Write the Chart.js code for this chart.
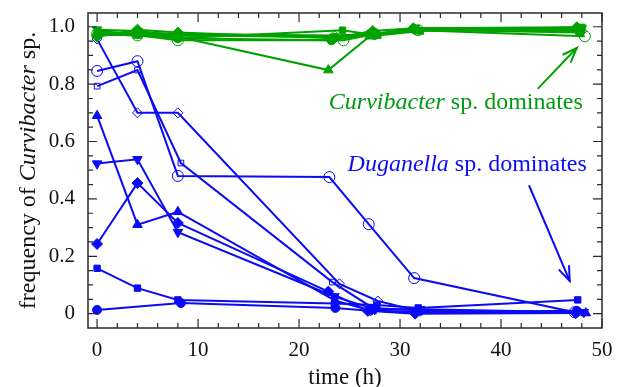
<!DOCTYPE html>
<html>
<head>
<meta charset="utf-8">
<script src="https://cdn.jsdelivr.net/npm/chart.js@4/dist/chart.umd.min.js"></script>
<style>
html,body{margin:0;padding:0;background:#fff;}
#wrap{width:626px;height:387px;}
</style>
</head>
<body>
<div id="wrap"><canvas id="c" width="626" height="387"></canvas></div>
<script>
// ---- data: [time (h), frequency of Curvibacter sp.] ----
// Duganella sp. dominates (blue)
const dugOpenCircle  = [[0,0.846],[4,0.88],[8,0.48],[23,0.476],[26.9,0.312],[31.4,0.124],[47.3,0.005]];
const dugOpenSquare  = [[0,0.793],[4,0.849],[8.3,0.525],[23.3,0.11],[27.3,0.02],[31.6,0.012],[47.8,0.005]];
const dugOpenDiamond = [[0,0.957],[4,0.70],[8,0.70],[24,0.104],[27.8,0.044],[32,0.008],[47.5,0.003]];
const dugTriUp       = [[0,0.69],[4,0.31],[8,0.355],[23.6,0.045],[27.2,0.01],[31.8,0.006],[48.4,0.002]];
const dugTriDown     = [[0,0.523],[4,0.538],[8,0.284],[23.5,0.06],[27.5,0.015],[32,0.015],[48.2,0.005]];
const dugDiamond     = [[0,0.243],[4,0.455],[8,0.316],[22.9,0.077],[26.8,0.01],[31.5,0.0],[47.4,0.002]];
const dugSquare      = [[0,0.158],[4,0.089],[8,0.048],[23.5,0.035],[27.7,0.03],[31.8,0.02],[47.6,0.048]];
const dugCircle      = [[0,0.013],[8.3,0.037],[23.6,0.02],[27,0.01],[31.5,0.005],[47.5,0.01]];
// Curvibacter sp. dominates (green)
const curOpenCircle  = [[0,0.975],[4,0.97],[8,0.953],[24.4,0.953],[27.5,0.975],[31.8,0.988],[48.3,0.967]];
const curOpenSquare  = [[0,0.98],[4,0.975],[8,0.97],[23.5,0.965],[27,0.97],[31.5,0.99],[48,0.99]];
const curOpenDiamond = [[0,0.97],[4,0.98],[8,0.975],[23.5,0.97],[27.5,0.975],[31.5,0.99],[48,0.985]];
const curTriUp       = [[0,0.975],[4,0.97],[8,0.965],[22.9,0.849],[27,0.967],[31.5,0.99],[47.8,0.99]];
const curTriDown     = [[0,0.99],[4,0.985],[8,0.97],[23.5,0.965],[27.5,0.975],[31.5,0.995],[48,0.995]];
const curDiamond     = [[0,0.965],[4,0.99],[8,0.98],[23.5,0.96],[27.3,0.985],[31.3,0.995],[47.5,0.998]];
const curSquare      = [[0,0.985],[4,0.975],[8,0.96],[24.3,0.988],[27.8,0.97],[32,0.985],[48,0.998]];
const curCircle      = [[0,0.97],[4,0.975],[8,0.96],[23.2,0.953],[27,0.975],[31.5,0.99],[47.8,0.98]];

// ---- ticks ----
const xTickValues = [0,10,20,30,40,50];
const xTickLabels = ['0','10','20','30','40','50'];
const yTickValues = [0,0.2,0.4,0.6,0.8,1.0];
const yTickLabels = ['0','0.2','0.4','0.6','0.8','1.0'];

// ---- annotations (data coordinates) ----
const curvText = {x:48.1, y:0.713};
const dugText  = {x:48.5, y:0.497};
const curvArrow = [[43.7,0.786],[47.5,0.926]];
const dugArrow  = [[42.8,0.445],[46.8,0.114]];

const BLUE = '#0b0bf5';
const GREEN = '#00a200';
const GREEN_TXT = '#009a10';
const FONT = "'Liberation Serif', 'DejaVu Serif', serif";

const markerStyles = [
  {pointStyle:'circle',  radius:5.5, open:true,  rot:0},
  {pointStyle:'rect',    radius:4,   open:true,  rot:0},
  {pointStyle:'rectRot', radius:5,   open:true,  rot:0},
  {pointStyle:'triangle',radius:5.5, open:false, rot:0},
  {pointStyle:'triangle',radius:5.5, open:false, rot:180},
  {pointStyle:'rectRot', radius:5.5, open:false, rot:0},
  {pointStyle:'rect',    radius:4.5, open:false, rot:0},
  {pointStyle:'circle',  radius:4.5, open:false, rot:0}
];
const dugSeries = [dugOpenCircle,dugOpenSquare,dugOpenDiamond,dugTriUp,dugTriDown,dugDiamond,dugSquare,dugCircle];
const curSeries = [curOpenCircle,curOpenSquare,curOpenDiamond,curTriUp,curTriDown,curDiamond,curSquare,curCircle];

function mk(series, color, i){
  const m = markerStyles[i];
  return {
    data: series.map(p=>({x:p[0], y:p[1]})),
    showLine:true,
    borderColor: color,
    borderWidth: 2,
    pointStyle: m.pointStyle,
    pointRadius: m.radius,
    pointRotation: m.rot,
    pointBorderWidth: 1,
    pointBorderColor: color,
    pointBackgroundColor: m.open ? 'rgba(0,0,0,0)' : color,
    pointHoverRadius: m.radius
  };
}
const datasets = [];
curSeries.forEach((s,i)=>datasets.push(mk(s,GREEN,i)));
dugSeries.forEach((s,i)=>datasets.push(mk(s,BLUE,i)));

function measureRich(ctx, parts, size){
  let w = 0;
  parts.forEach(p=>{ ctx.font = (p.i?'italic ':'') + size + 'px ' + FONT; w += ctx.measureText(p.t).width; });
  return w;
}
function richText(ctx, parts, size, color, x, y, align, angle){
  ctx.save();
  ctx.translate(x,y);
  if(angle) ctx.rotate(angle);
  const w = measureRich(ctx, parts, size);
  let cx = align==='right' ? -w : (align==='center' ? -w/2 : 0);
  ctx.fillStyle = color;
  ctx.textBaseline = 'alphabetic';
  ctx.textAlign = 'left';
  parts.forEach(p=>{
    ctx.font = (p.i?'italic ':'') + size + 'px ' + FONT;
    ctx.fillText(p.t, cx, 0);
    cx += ctx.measureText(p.t).width;
  });
  ctx.restore();
}
function arrow(ctx, x1,y1,x2,y2,color){
  ctx.save();
  ctx.strokeStyle = color; ctx.lineWidth = 2; ctx.lineCap='round';
  ctx.beginPath(); ctx.moveTo(x1,y1); ctx.lineTo(x2,y2); ctx.stroke();
  const a = Math.atan2(y2-y1,x2-x1), L = 15, s = 0.36;
  ctx.beginPath();
  ctx.moveTo(x2 - L*Math.cos(a-s), y2 - L*Math.sin(a-s));
  ctx.lineTo(x2,y2);
  ctx.lineTo(x2 - L*Math.cos(a+s), y2 - L*Math.sin(a+s));
  ctx.stroke();
  ctx.restore();
}

const framePlugin = {
  id:'frame',
  afterDraw(chart){
    const ctx = chart.ctx, a = chart.chartArea;
    const xs = chart.scales.x, ys = chart.scales.y;
    ctx.save();
    ctx.strokeStyle = '#2a2a2a';
    ctx.lineWidth = 1.5;
    ctx.strokeRect(a.left, a.top, a.right-a.left, a.bottom-a.top);
    ctx.lineWidth = 1.2;
    for(let t=0; t<=50; t+=2){
      const px = xs.getPixelForValue(t);
      const L = (t%10===0) ? 9 : 5;
      ctx.beginPath();
      ctx.moveTo(px, a.bottom); ctx.lineTo(px, a.bottom-L);
      ctx.moveTo(px, a.top); ctx.lineTo(px, a.top+L);
      ctx.stroke();
    }
    for(let k=0; k<=20; k++){
      const v = k*0.05;
      const py = ys.getPixelForValue(v);
      const L = (k%4===0) ? 9 : 5;
      ctx.beginPath();
      ctx.moveTo(a.left, py); ctx.lineTo(a.left+L, py);
      ctx.moveTo(a.right, py); ctx.lineTo(a.right-L, py);
      ctx.stroke();
    }
    ctx.restore();

    richText(ctx, [{t:'Curvibacter',i:true},{t:' sp. dominates'}], 24, GREEN_TXT,
      xs.getPixelForValue(curvText.x), ys.getPixelForValue(curvText.y), 'right');
    richText(ctx, [{t:'Duganella',i:true},{t:' sp. dominates'}], 24, BLUE,
      xs.getPixelForValue(dugText.x), ys.getPixelForValue(dugText.y), 'right');
    arrow(ctx, xs.getPixelForValue(curvArrow[0][0]), ys.getPixelForValue(curvArrow[0][1]),
               xs.getPixelForValue(curvArrow[1][0]), ys.getPixelForValue(curvArrow[1][1]), GREEN);
    arrow(ctx, xs.getPixelForValue(dugArrow[0][0]), ys.getPixelForValue(dugArrow[0][1]),
               xs.getPixelForValue(dugArrow[1][0]), ys.getPixelForValue(dugArrow[1][1]), BLUE);

    richText(ctx, [{t:'time (h)'}], 23, '#111', (a.left+a.right)/2, 384, 'center');
    richText(ctx, [{t:'frequency of '},{t:'Curvibacter',i:true},{t:' sp.'}], 24, '#111',
      35, (a.top+a.bottom)/2, 'center', -Math.PI/2);
  }
};

new Chart(document.getElementById('c'), {
  type:'scatter',
  data:{datasets},
  options:{
    responsive:false,
    animation:false,
    events:[],
    layout:{padding:{left:0,right:24,top:13,bottom:0}},
    plugins:{legend:{display:false}, tooltip:{enabled:false}},
    scales:{
      x:{
        type:'linear', min:-0.9, max:50,
        afterBuildTicks(s){ s.ticks = xTickValues.map(v=>({value:v})); },
        afterFit(s){ s.height = 59; s.paddingLeft = 0; s.paddingRight = 0; },
        grid:{display:false, drawTicks:false},
        border:{display:false},
        ticks:{
          color:'#111', padding:10, maxRotation:0, autoSkip:false,
          font:{family:FONT, size:21},
          callback(v){ const i = xTickValues.indexOf(v); return i>=0 ? xTickLabels[i] : ''; }
        }
      },
      y:{
        type:'linear', min:-0.05, max:1.048,
        afterBuildTicks(s){ s.ticks = yTickValues.map(v=>({value:v})); },
        afterFit(s){ s.width = 88; s.paddingTop = 0; s.paddingBottom = 0; },
        grid:{display:false, drawTicks:false},
        border:{display:false},
        ticks:{
          color:'#111', padding:13, autoSkip:false,
          font:{family:FONT, size:21},
          callback(v){ const i = yTickValues.findIndex(t=>Math.abs(t-v)<1e-9); return i>=0 ? yTickLabels[i] : ''; }
        }
      }
    }
  },
  plugins:[framePlugin]
});
</script>
</body>
</html>
